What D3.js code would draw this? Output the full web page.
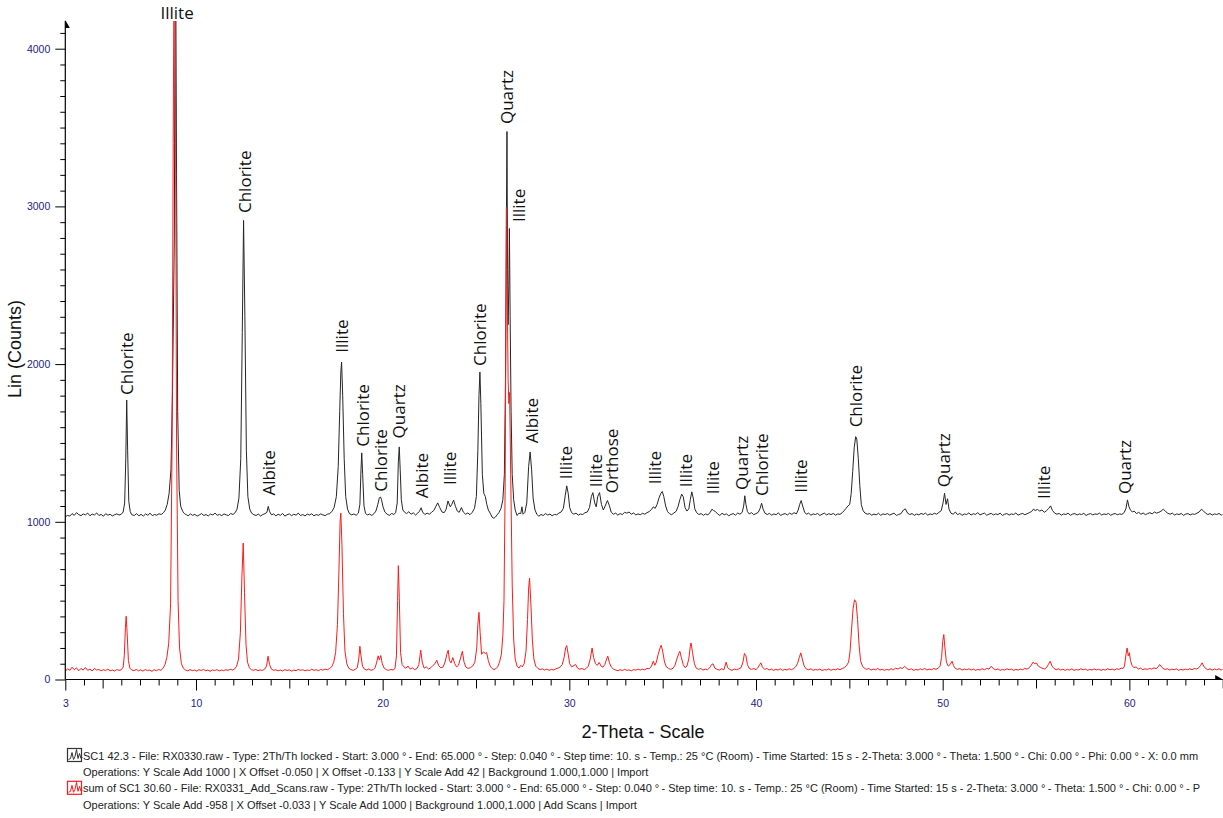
<!DOCTYPE html>
<html>
<head>
<meta charset="utf-8">
<script src="https://cdn.jsdelivr.net/npm/d3@7"></script>
<style>
  body { margin: 0; background: #fff; }
</style>
</head>
<body>
<div id="xrd"></div>
<script>
// [2-theta, counts]. SC1 42.3 is shown with "Y Scale Add 1000".
var scanSC1 = [
  [3.00,1032],[3.12,1040],[3.24,1036],[3.36,1052],[3.48,1041],[3.60,1058],[3.72,1046],[3.84,1039],[3.96,1050],[4.08,1044],
  [4.20,1055],[4.32,1038],[4.44,1049],[4.56,1043],[4.68,1056],[4.80,1040],[4.92,1047],[5.04,1035],[5.16,1051],[5.28,1042],
  [5.40,1048],[5.52,1037],[5.64,1045],[5.76,1050],[5.88,1043],[6.00,1048],[6.10,1062],[6.18,1120],[6.24,1400],[6.29,1772],
  [6.34,1450],[6.40,1130],[6.48,1065],[6.56,1045],[6.70,1040],[6.82,1052],[6.94,1038],[7.06,1047],[7.18,1036],[7.30,1050],
  [7.42,1041],[7.54,1055],[7.66,1039],[7.78,1046],[7.90,1042],[8.02,1051],[8.14,1046],[8.26,1058],[8.36,1075],[8.46,1110],
  [8.56,1180],[8.66,1330],[8.74,1800],[8.84,2800],[8.90,4900],[8.96,3200],[9.02,1700],[9.10,1200],[9.18,1100],[9.28,1068],
  [9.38,1052],[9.50,1044],[9.58,1038],[9.70,1050],[9.82,1041],[9.94,1047],[10.06,1036],[10.18,1044],[10.30,1052],[10.42,1040],
  [10.54,1046],[10.66,1037],[10.78,1049],[10.90,1043],[11.02,1055],[11.14,1041],[11.26,1047],[11.38,1039],[11.50,1050],[11.62,1044],
  [11.74,1040],[11.86,1053],[11.98,1046],[12.10,1058],[12.20,1080],[12.30,1150],[12.40,1400],[12.48,2200],[12.55,2911],[12.62,2300],
  [12.70,1450],[12.78,1160],[12.88,1080],[12.98,1055],[13.10,1045],[13.22,1040],[13.34,1049],[13.46,1037],[13.58,1046],[13.70,1052],
  [13.80,1060],[13.87,1098],[13.94,1066],[14.04,1044],[14.16,1050],[14.28,1038],[14.40,1047],[14.52,1041],[14.64,1053],[14.76,1036],
  [14.88,1045],[15.00,1050],[15.12,1039],[15.24,1048],[15.36,1042],[15.48,1055],[15.60,1040],[15.72,1046],[15.84,1037],[15.96,1049],
  [16.08,1043],[16.20,1051],[16.32,1038],[16.44,1046],[16.56,1041],[16.68,1050],[16.80,1044],[16.92,1039],[17.04,1048],[17.16,1052],
  [17.28,1065],[17.40,1090],[17.52,1160],[17.62,1350],[17.70,1700],[17.76,1950],[17.80,2013],[17.86,1800],[17.94,1400],[18.02,1160],
  [18.12,1080],[18.22,1052],[18.34,1044],[18.46,1050],[18.58,1041],[18.70,1055],[18.78,1110],[18.84,1330],[18.88,1437],[18.93,1300],
  [19.00,1100],[19.08,1055],[19.18,1043],[19.30,1049],[19.42,1040],[19.54,1052],[19.64,1068],[19.74,1110],[19.82,1150],[19.88,1158],
  [19.94,1140],[20.02,1095],[20.12,1062],[20.24,1048],[20.36,1041],[20.48,1053],[20.60,1046],[20.70,1060],[20.78,1120],[20.84,1380],
  [20.89,1475],[20.94,1330],[21.00,1140],[21.08,1075],[21.18,1060],[21.28,1052],[21.40,1064],[21.52,1048],[21.64,1057],[21.76,1043],
  [21.88,1055],[21.98,1068],[22.06,1089],[22.14,1062],[22.26,1046],[22.38,1055],[22.50,1048],[22.62,1060],[22.74,1072],[22.84,1095],
  [22.95,1120],[23.06,1090],[23.18,1062],[23.30,1058],[23.40,1080],[23.50,1132],[23.62,1095],[23.70,1110],[23.80,1137],[23.90,1098],
  [24.00,1068],[24.10,1060],[24.22,1090],[24.32,1062],[24.44,1048],[24.56,1056],[24.68,1045],[24.80,1060],[24.92,1085],[25.02,1160],
  [25.10,1450],[25.16,1800],[25.21,1949],[25.26,1750],[25.34,1300],[25.42,1180],[25.50,1160],[25.58,1110],[25.66,1075],[25.76,1055],
  [25.86,1030],[25.96,1022],[26.04,1030],[26.14,1045],[26.24,1060],[26.34,1085],[26.44,1140],[26.52,1300],[26.58,1900],[26.63,2900],
  [26.66,3475],[26.69,2600],[26.72,2250],[26.76,2500],[26.79,2860],[26.83,2300],[26.88,1700],[26.94,1300],[27.02,1140],[27.10,1075],
  [27.20,1040],[27.30,1055],[27.40,1052],[27.46,1095],[27.52,1048],[27.62,1060],[27.72,1120],[27.82,1350],[27.90,1443],[27.98,1330],
  [28.06,1150],[28.16,1075],[28.26,1048],[28.36,1035],[28.48,1046],[28.60,1040],[28.72,1052],[28.84,1043],[28.96,1049],[29.08,1038],
  [29.20,1047],[29.32,1044],[29.44,1055],[29.56,1062],[29.68,1085],[29.78,1165],[29.86,1228],[29.94,1180],[30.02,1090],[30.12,1058],
  [30.24,1048],[30.36,1055],[30.48,1042],[30.60,1050],[30.72,1046],[30.84,1058],[30.96,1062],[31.08,1090],[31.18,1160],[31.26,1185],
  [31.36,1120],[31.44,1095],[31.52,1160],[31.62,1185],[31.72,1110],[31.82,1075],[31.92,1100],[32.04,1135],[32.14,1105],[32.24,1062],
  [32.36,1048],[32.48,1055],[32.60,1042],[32.72,1052],[32.84,1046],[32.96,1060],[33.08,1055],[33.20,1062],[33.32,1048],[33.44,1056],
  [33.56,1044],[33.68,1050],[33.80,1045],[33.92,1054],[34.04,1048],[34.16,1058],[34.28,1065],[34.40,1078],[34.50,1095],[34.60,1085],
  [34.70,1110],[34.80,1150],[34.90,1180],[34.98,1192],[35.06,1160],[35.16,1100],[35.26,1065],[35.36,1052],[35.48,1045],[35.60,1056],
  [35.72,1066],[35.82,1095],[35.92,1140],[36.02,1175],[36.10,1160],[36.20,1090],[36.30,1068],[36.40,1082],[36.48,1140],[36.56,1190],
  [36.64,1150],[36.72,1082],[36.82,1058],[36.94,1046],[37.06,1052],[37.18,1041],[37.30,1050],[37.42,1044],[37.54,1058],[37.64,1080],
  [37.72,1072],[37.82,1066],[37.94,1050],[38.06,1040],[38.18,1054],[38.30,1045],[38.42,1050],[38.54,1038],[38.66,1047],[38.78,1052],
  [38.90,1042],[39.02,1056],[39.14,1048],[39.26,1060],[39.34,1100],[39.40,1165],[39.46,1110],[39.54,1065],[39.64,1050],[39.76,1058],
  [39.88,1045],[40.00,1052],[40.12,1060],[40.22,1085],[40.30,1118],[40.38,1080],[40.48,1055],[40.60,1046],[40.72,1053],[40.84,1042],
  [40.96,1050],[41.08,1045],[41.20,1057],[41.32,1040],[41.44,1048],[41.56,1052],[41.68,1043],[41.80,1055],[41.92,1047],[42.04,1058],
  [42.16,1050],[42.26,1075],[42.34,1110],[42.42,1135],[42.50,1100],[42.60,1062],[42.70,1048],[42.82,1055],[42.94,1042],[43.06,1050],
  [43.18,1046],[43.30,1053],[43.42,1040],[43.54,1048],[43.66,1055],[43.78,1044],[43.90,1051],[44.02,1046],[44.14,1053],[44.26,1042],
  [44.38,1050],[44.50,1047],[44.62,1058],[44.72,1070],[44.82,1085],[44.92,1100],[45.02,1110],[45.10,1180],[45.18,1320],[45.26,1470],
  [45.34,1540],[45.40,1525],[45.48,1400],[45.56,1230],[45.64,1110],[45.74,1070],[45.84,1055],[45.96,1048],[46.08,1052],[46.20,1042],
  [46.32,1049],[46.44,1044],[46.56,1054],[46.68,1041],[46.80,1050],[46.92,1046],[47.04,1052],[47.16,1043],[47.28,1049],[47.40,1055],
  [47.52,1040],[47.64,1047],[47.76,1051],[47.90,1075],[48.00,1082],[48.12,1055],[48.24,1046],[48.36,1052],[48.48,1041],[48.60,1049],
  [48.72,1044],[48.84,1053],[48.96,1047],[49.08,1055],[49.20,1042],[49.32,1050],[49.44,1046],[49.56,1054],[49.68,1048],[49.80,1060],
  [49.92,1070],[50.02,1120],[50.10,1181],[50.18,1110],[50.26,1146],[50.34,1080],[50.44,1055],[50.56,1048],[50.68,1062],[50.80,1045],
  [50.92,1053],[51.04,1041],[51.16,1050],[51.28,1046],[51.40,1056],[51.52,1043],[51.64,1051],[51.76,1047],[51.88,1058],[52.00,1044],
  [52.12,1050],[52.24,1055],[52.36,1041],[52.48,1049],[52.60,1053],[52.72,1044],[52.84,1050],[52.96,1046],[53.08,1055],[53.20,1040],
  [53.32,1048],[53.44,1052],[53.56,1043],[53.68,1050],[53.80,1046],[53.92,1056],[54.04,1042],[54.16,1049],[54.28,1053],[54.40,1045],
  [54.52,1051],[54.64,1058],[54.76,1065],[54.86,1080],[54.96,1072],[55.08,1078],[55.20,1068],[55.32,1075],[55.44,1060],[55.56,1070],
  [55.68,1085],[55.78,1101],[55.88,1072],[56.00,1055],[56.12,1048],[56.24,1053],[56.36,1042],[56.48,1050],[56.60,1046],[56.72,1055],
  [56.84,1041],[56.96,1049],[57.08,1052],[57.20,1043],[57.32,1050],[57.44,1046],[57.56,1054],[57.68,1040],[57.80,1048],[57.92,1052],
  [58.04,1044],[58.16,1050],[58.28,1047],[58.40,1055],[58.52,1043],[58.64,1050],[58.76,1046],[58.88,1053],[59.00,1041],[59.12,1049],
  [59.24,1052],[59.36,1045],[59.48,1050],[59.60,1047],[59.72,1058],[59.82,1085],[59.90,1139],[59.98,1095],[60.06,1075],[60.16,1062],
  [60.26,1068],[60.38,1052],[60.50,1060],[60.62,1048],[60.74,1056],[60.86,1045],[60.98,1052],[61.10,1058],[61.22,1050],[61.34,1062],
  [61.46,1055],[61.58,1060],[61.70,1068],[61.82,1080],[61.94,1066],[62.06,1054],[62.18,1048],[62.30,1055],[62.42,1043],[62.54,1050],
  [62.66,1046],[62.78,1053],[62.90,1041],[63.02,1049],[63.14,1052],[63.26,1044],[63.38,1050],[63.50,1047],[63.62,1055],[63.74,1062],
  [63.86,1080],[63.96,1070],[64.08,1055],[64.20,1046],[64.32,1052],[64.44,1043],[64.56,1050],[64.68,1046],[64.80,1053],[64.92,1042],
  [65.00,1048]
];

// sum of SC1 30.60
var scanSum = [
  [3.00,52],[3.12,68],[3.24,58],[3.36,78],[3.48,62],[3.60,74],[3.72,55],[3.84,70],[3.96,60],[4.08,76],
  [4.20,58],[4.32,66],[4.44,54],[4.56,70],[4.68,60],[4.80,64],[4.92,55],[5.04,62],[5.16,57],[5.28,66],
  [5.40,55],[5.52,60],[5.64,54],[5.76,63],[5.88,58],[6.00,62],[6.10,78],[6.16,150],[6.22,330],[6.26,401],
  [6.31,300],[6.38,120],[6.46,72],[6.56,60],[6.68,56],[6.80,64],[6.92,55],[7.04,61],[7.16,53],[7.28,63],
  [7.40,57],[7.52,60],[7.64,52],[7.76,62],[7.88,56],[8.00,64],[8.12,58],[8.24,72],[8.34,95],[8.44,140],
  [8.54,230],[8.64,480],[8.72,1500],[8.78,3400],[8.85,5200],[8.90,3800],[8.96,1500],[9.04,500],[9.12,200],[9.22,100],
  [9.32,72],[9.44,60],[9.56,55],[9.68,63],[9.80,56],[9.92,60],[10.04,53],[10.16,62],[10.28,57],[10.40,64],
  [10.52,55],[10.64,60],[10.76,52],[10.88,61],[11.00,57],[11.12,63],[11.24,54],[11.36,60],[11.48,56],[11.60,62],
  [11.72,58],[11.84,65],[11.96,60],[12.08,68],[12.18,85],[12.28,130],[12.38,300],[12.46,650],[12.53,865],[12.60,550],
  [12.68,220],[12.76,110],[12.86,75],[12.96,62],[13.08,58],[13.20,64],[13.32,56],[13.44,61],[13.56,57],[13.68,66],
  [13.78,85],[13.86,148],[13.94,95],[14.04,66],[14.16,58],[14.28,62],[14.40,55],[14.52,60],[14.64,54],[14.76,63],
  [14.88,57],[15.00,61],[15.12,53],[15.24,60],[15.36,56],[15.48,64],[15.60,58],[15.72,62],[15.84,55],[15.96,60],
  [16.08,57],[16.20,65],[16.32,58],[16.44,62],[16.56,56],[16.68,64],[16.80,59],[16.92,66],[17.04,62],[17.16,70],
  [17.28,82],[17.38,110],[17.48,170],[17.58,350],[17.66,700],[17.72,1000],[17.76,1055],[17.82,850],[17.90,420],[17.98,180],
  [18.08,100],[18.18,72],[18.30,63],[18.42,58],[18.54,65],[18.64,75],[18.72,130],[18.78,211],[18.84,150],[18.92,85],
  [19.02,66],[19.14,60],[19.26,67],[19.38,58],[19.50,63],[19.60,75],[19.68,110],[19.76,150],[19.82,125],[19.90,152],
  [19.98,100],[20.08,72],[20.20,62],[20.32,58],[20.44,64],[20.56,60],[20.66,70],[20.74,150],[20.80,500],[20.84,722],
  [20.89,520],[20.96,170],[21.04,95],[21.14,80],[21.24,72],[21.36,85],[21.48,66],[21.60,74],[21.72,62],[21.84,70],
  [21.94,95],[22.04,186],[22.12,110],[22.22,72],[22.34,80],[22.46,66],[22.58,75],[22.70,90],[22.80,100],[22.90,122],
  [23.00,88],[23.12,74],[23.24,80],[23.34,110],[23.44,160],[23.51,186],[23.58,120],[23.66,105],[23.76,139],[23.86,100],
  [23.96,80],[24.06,90],[24.16,130],[24.27,179],[24.36,110],[24.46,78],[24.58,70],[24.70,75],[24.82,85],[24.94,110],
  [25.04,200],[25.10,350],[25.16,426],[25.22,300],[25.30,160],[25.40,175],[25.50,165],[25.57,171],[25.66,120],[25.76,85],
  [25.86,70],[25.96,63],[26.06,68],[26.16,80],[26.26,110],[26.36,160],[26.44,280],[26.50,500],[26.56,1200],[26.60,2200],
  [26.63,2994],[26.67,2500],[26.72,1900],[26.76,1750],[26.80,1820],[26.86,1300],[26.94,600],[27.02,250],[27.10,130],[27.20,85],
  [27.30,72],[27.40,90],[27.48,80],[27.58,100],[27.68,180],[27.76,380],[27.82,580],[27.87,643],[27.94,480],[28.02,250],
  [28.10,130],[28.20,85],[28.32,70],[28.44,62],[28.56,68],[28.68,60],[28.80,66],[28.92,58],[29.04,64],[29.16,60],
  [29.28,68],[29.40,72],[29.52,80],[29.62,95],[29.72,140],[29.80,200],[29.86,215],[29.94,160],[30.02,100],[30.12,80],
  [30.24,88],[30.34,95],[30.44,72],[30.56,65],[30.68,70],[30.80,62],[30.92,72],[31.02,85],[31.12,130],[31.22,200],
  [31.30,140],[31.40,100],[31.50,90],[31.60,108],[31.70,85],[31.80,78],[31.90,95],[32.00,130],[32.06,148],[32.14,110],
  [32.24,80],[32.36,66],[32.48,60],[32.60,56],[32.72,62],[32.84,57],[32.96,64],[33.08,58],[33.20,61],[33.32,55],
  [33.44,63],[33.56,59],[33.68,66],[33.80,60],[33.92,65],[34.04,62],[34.16,70],[34.28,68],[34.40,85],[34.50,116],
  [34.58,90],[34.66,110],[34.76,160],[34.86,200],[34.92,217],[35.00,180],[35.10,110],[35.20,80],[35.32,70],[35.44,64],
  [35.56,72],[35.66,90],[35.76,130],[35.86,165],[35.92,179],[36.00,140],[36.10,95],[36.20,75],[36.30,85],[36.40,130],
  [36.48,210],[36.52,232],[36.60,170],[36.70,100],[36.80,72],[36.92,64],[37.04,70],[37.16,60],[37.28,66],[37.40,62],
  [37.52,75],[37.62,95],[37.70,99],[37.80,72],[37.92,64],[38.04,60],[38.16,68],[38.28,62],[38.40,110],[38.48,75],
  [38.60,64],[38.72,58],[38.84,66],[38.96,62],[39.08,68],[39.20,75],[39.30,110],[39.38,165],[39.46,150],[39.54,95],
  [39.64,70],[39.76,64],[39.88,70],[40.00,62],[40.10,75],[40.20,95],[40.26,106],[40.34,80],[40.46,64],[40.58,70],
  [40.70,60],[40.82,66],[40.94,58],[41.06,64],[41.18,60],[41.30,68],[41.42,58],[41.54,64],[41.66,60],[41.78,68],
  [41.90,62],[42.02,70],[42.12,80],[42.22,100],[42.32,140],[42.40,169],[42.48,130],[42.58,85],[42.70,66],[42.82,62],
  [42.94,68],[43.06,58],[43.18,64],[43.30,60],[43.42,66],[43.54,57],[43.66,63],[43.78,60],[43.90,67],[44.02,58],
  [44.14,65],[44.26,61],[44.38,68],[44.50,62],[44.62,70],[44.74,75],[44.86,90],[44.96,110],[45.04,180],[45.12,320],
  [45.20,450],[45.28,506],[45.36,490],[45.44,380],[45.52,220],[45.60,120],[45.70,85],[45.80,72],[45.92,64],[46.04,70],
  [46.16,60],[46.28,66],[46.40,62],[46.52,70],[46.64,60],[46.76,65],[46.88,58],[47.00,64],[47.12,60],[47.24,68],
  [47.36,62],[47.48,72],[47.60,66],[47.72,75],[47.84,70],[47.96,84],[48.08,70],[48.20,62],[48.32,68],[48.44,58],
  [48.56,64],[48.68,60],[48.80,68],[48.92,62],[49.04,70],[49.16,60],[49.28,66],[49.40,62],[49.52,70],[49.64,64],
  [49.76,72],[49.86,85],[49.94,140],[50.00,240],[50.06,285],[50.12,200],[50.20,110],[50.30,85],[50.40,95],[50.50,116],
  [50.58,88],[50.68,70],[50.80,64],[50.92,70],[51.04,60],[51.16,66],[51.28,62],[51.40,68],[51.52,60],[51.64,66],
  [51.76,58],[51.88,64],[52.00,60],[52.12,68],[52.24,62],[52.36,70],[52.48,66],[52.60,84],[52.72,68],[52.84,62],
  [52.96,67],[53.08,58],[53.20,64],[53.32,60],[53.44,68],[53.56,62],[53.68,66],[53.80,58],[53.92,64],[54.04,60],
  [54.16,66],[54.28,62],[54.40,70],[54.52,66],[54.64,75],[54.74,90],[54.84,110],[54.92,100],[55.02,105],[55.12,85],
  [55.22,78],[55.32,72],[55.44,66],[55.56,75],[55.66,95],[55.76,116],[55.86,85],[55.96,70],[56.08,62],[56.20,68],
  [56.32,60],[56.44,65],[56.56,58],[56.68,64],[56.80,60],[56.92,67],[57.04,58],[57.16,63],[57.28,60],[57.40,68],
  [57.52,62],[57.64,66],[57.76,58],[57.88,64],[58.00,60],[58.12,67],[58.24,61],[58.36,65],[58.48,58],[58.60,64],
  [58.72,60],[58.84,68],[58.96,62],[59.08,66],[59.20,60],[59.32,68],[59.44,64],[59.56,72],[59.66,70],[59.74,85],
  [59.82,160],[59.88,200],[59.94,150],[60.00,170],[60.06,120],[60.14,90],[60.24,75],[60.36,80],[60.48,66],[60.60,72],
  [60.72,62],[60.84,68],[60.96,64],[61.08,70],[61.20,66],[61.32,74],[61.44,68],[61.54,80],[61.62,95],[61.70,85],
  [61.80,70],[61.92,64],[62.04,68],[62.16,60],[62.28,66],[62.40,62],[62.52,68],[62.64,58],[62.76,64],[62.88,60],
  [63.00,66],[63.12,62],[63.24,68],[63.36,62],[63.48,70],[63.60,66],[63.72,75],[63.82,90],[63.90,106],[63.98,85],
  [64.08,70],[64.20,62],[64.32,68],[64.44,60],[64.56,66],[64.68,62],[64.80,68],[64.92,60],[65.00,64]
];

var xTickLabels = [3, 10, 20, 30, 40, 50, 60];
var yTickLabels = [0, 1000, 2000, 3000, 4000];

// phase name, 2-theta, counts where the label starts
var peakLabels = [
  ["Chlorite", 6.30, 1804], ["Chlorite", 12.59, 2958], ["Albite", 13.87, 1166],
  ["Illite", 17.80, 2072], ["Chlorite", 18.92, 1476], ["Chlorite", 19.88, 1191],
  ["Quartz", 20.86, 1529], ["Albite", 22.08, 1149], ["Illite", 23.56, 1233],
  ["Chlorite", 25.20, 1988], ["Quartz", 26.64, 3522], ["Illite", 27.30, 2901],
  ["Albite", 27.98, 1498], ["Illite", 29.80, 1270], ["Illite", 31.38, 1219],
  ["Orthose", 32.27, 1181], ["Illite", 34.57, 1238], ["Illite", 36.21, 1219],
  ["Illite", 37.67, 1174], ["Quartz", 39.24, 1202], ["Chlorite", 40.30, 1164],
  ["Illite", 42.36, 1185], ["Chlorite", 45.33, 1599], ["Quartz", 50.04, 1219],
  ["Illite", 55.38, 1145], ["Quartz", 59.72, 1176]
];
// the 8.9 peak runs off the top, its label sits flat above it
var topLabels = [["Illite", 8.99, 4188]];

var legendLines = [
  "SC1 42.3 - File: RX0330.raw - Type: 2Th/Th locked - Start: 3.000 °\u2009- End: 65.000 °\u2009- Step: 0.040 °\u2009- Step time: 10. s - Temp.: 25 °C (Room) - Time Started: 15 s - 2-Theta: 3.000 °\u2009- Theta: 1.500 °\u2009- Chi: 0.00 °\u2009- Phi: 0.00 °\u2009- X: 0.0 mm",
  "Operations: Y Scale Add 1000 | X Offset -0.050 | X Offset -0.133 | Y Scale Add 42 | Background 1.000,1.000 | Import",
  "sum of SC1 30.60 - File: RX0331_Add_Scans.raw - Type: 2Th/Th locked - Start: 3.000 °\u2009- End: 65.000 °\u2009- Step: 0.040 °\u2009- Step time: 10. s - Temp.: 25 °C (Room) - Time Started: 15 s - 2-Theta: 3.000 °\u2009- Theta: 1.500 °\u2009- Chi: 0.00 °\u2009- P",
  "Operations: Y Scale Add -958 | X Offset -0.033 | Y Scale Add 1000 | Background 1.000,1.000 | Add Scans | Import"
];

function drawPattern() {

  var width = 1223, height = 818;

  var svg = d3.select("#xrd")
    .append("svg")
    .attr("width", width)
    .attr("height", height)
    .style("display", "block");

  var x = d3.scaleLinear()
    .domain([3, 65])
    .range([65.3, 1222.7]);

  var y = d3.scaleLinear()
    .domain([0, 4000])
    .range([679.5, 48.7]);

  svg.append("clipPath")
    .attr("id", "plot-clip")
    .append("rect")
    .attr("x", x(3))
    .attr("y", 21)
    .attr("width", x(65) - x(3))
    .attr("height", y(0) - 21 + 2);

  var line = d3.line()
    .x(function (d) { return x(d[0]); })
    .y(function (d) { return y(d[1]); });

  // traces, red one drawn on top
  var traces = svg.append("g").attr("clip-path", "url(#plot-clip)");
  traces.append("path")
    .datum(scanSC1)
    .attr("d", line)
    .attr("fill", "none")
    .attr("stroke", "#262626")
    .attr("stroke-width", 1);
  traces.append("path")
    .datum(scanSum)
    .attr("d", line)
    .attr("fill", "none")
    .attr("stroke", "#ff1a1a")
    .attr("stroke-width", 1);

  // X axis: a tick every degree, longer ones every 5 and 10
  var xAxis = svg.append("g")
    .attr("transform", "translate(0," + y(0) + ")")
    .call(d3.axisBottom(x)
      .tickValues(d3.range(3, 66))
      .tickSize(6)
      .tickPadding(14)
      .tickFormat(function (d) { return xTickLabels.indexOf(d) >= 0 ? d : ""; }));
  xAxis.select(".domain").remove();
  xAxis.selectAll(".tick line")
    .attr("stroke", "#000")
    .attr("y2", function (d) {
      if (d % 10 === 0 || d === 3) return 11;
      if (d % 5 === 0) return 9;
      return 6;
    });
  xAxis.selectAll(".tick text")
    .attr("fill", "#23237a")
    .style("font-family", "'Liberation Sans', Arial, sans-serif")
    .style("font-size", "10.5px");

  // Y axis: minor every 100 counts
  var yAxis = svg.append("g")
    .attr("transform", "translate(" + x(3) + ",0)")
    .call(d3.axisLeft(y)
      .tickValues(d3.range(0, 4101, 100))
      .tickSize(5)
      .tickPadding(10)
      .tickFormat(function (d) { return yTickLabels.indexOf(d) >= 0 ? d : ""; }));
  yAxis.select(".domain").remove();
  yAxis.selectAll(".tick line")
    .attr("stroke", "#000")
    .attr("x2", function (d) { return d % 1000 === 0 ? -10 : -5; });
  yAxis.selectAll(".tick text")
    .attr("fill", "#23237a")
    .style("font-family", "'Liberation Sans', Arial, sans-serif")
    .style("font-size", "10.5px");

  // axis lines with their small arrow heads
  svg.append("line")
    .attr("x1", x(3)).attr("x2", x(3))
    .attr("y1", y(0)).attr("y2", 21)
    .attr("stroke", "#000").attr("stroke-width", 1.2);
  svg.append("path")
    .attr("d", "M" + x(3) + ",20 L" + (x(3) + 4.5) + ",28 L" + x(3) + ",28 Z")
    .attr("fill", "#000");
  svg.append("line")
    .attr("x1", x(3)).attr("x2", x(65))
    .attr("y1", y(0)).attr("y2", y(0))
    .attr("stroke", "#000").attr("stroke-width", 1.2);
  svg.append("path")
    .attr("d", "M" + (x(65) + 0.3) + "," + y(0) + " L" + (x(65) - 7.5) + "," + (y(0) - 4.5) + " L" + (x(65) - 7.5) + "," + y(0) + " Z")
    .attr("fill", "#000");

  // axis titles
  svg.append("text")
    .attr("x", 643)
    .attr("y", 738)
    .style("text-anchor", "middle")
    .style("font-family", "'Liberation Sans', Arial, sans-serif")
    .style("font-size", "18px")
    .attr("fill", "#111")
    .text("2-Theta - Scale");

  svg.append("text")
    .attr("transform", "translate(21,349) rotate(-90)")
    .style("text-anchor", "middle")
    .style("font-family", "'Liberation Sans', Arial, sans-serif")
    .style("font-size", "18px")
    .attr("fill", "#111")
    .text("Lin (Counts)");

  // phase labels
  svg.append("g")
    .selectAll("text")
    .data(peakLabels)
    .enter()
    .append("text")
    .attr("transform", function (d) {
      return "translate(" + x(d[1]) + "," + y(d[2]) + ") rotate(-90)";
    })
    .attr("dominant-baseline", "central")
    .style("font-family", "'Open Sans', sans-serif")
    .style("font-size", "17px")
    .attr("fill", "#111")
    .text(function (d) { return d[0]; });

  svg.append("g")
    .selectAll("text")
    .data(topLabels)
    .enter()
    .append("text")
    .attr("x", function (d) { return x(d[1]); })
    .attr("y", function (d) { return y(d[2]); })
    .style("text-anchor", "middle")
    .style("font-family", "'Open Sans', sans-serif")
    .style("font-size", "17px")
    .attr("fill", "#111")
    .text(function (d) { return d[0]; });

  // scan legend under the axis
  var legend = svg.append("g")
    .style("font-family", "'Liberation Sans', Arial, sans-serif")
    .style("font-size", "11px")
    .attr("fill", "#222");

  legend.selectAll("text")
    .data(legendLines)
    .enter()
    .append("text")
    .attr("x", 83)
    .attr("y", function (d, i) { return 759.5 + i * 16.4; })
    .text(function (d) { return d; });

  var iconColours = ["#333", "#ff1a1a"];
  iconColours.forEach(function (c, i) {
    var top = 748.5 + i * 32.8;
    legend.append("rect")
      .attr("x", 67.5).attr("y", top)
      .attr("width", 14).attr("height", 13)
      .attr("fill", "none")
      .attr("stroke", c).attr("stroke-width", 1.2);
    legend.append("path")
      .attr("d", "M" + 68.5 + "," + (top + 11) + " l2,-1 l1.5,-6 l1.5,7 l1.5,-3 l1.5,-7 l1.5,9 l1.5,-5 l1.5,5 l1.5,-1")
      .attr("fill", "none")
      .attr("stroke", c).attr("stroke-width", 1);
  });
}

drawPattern();
</script>
</body>
</html>
